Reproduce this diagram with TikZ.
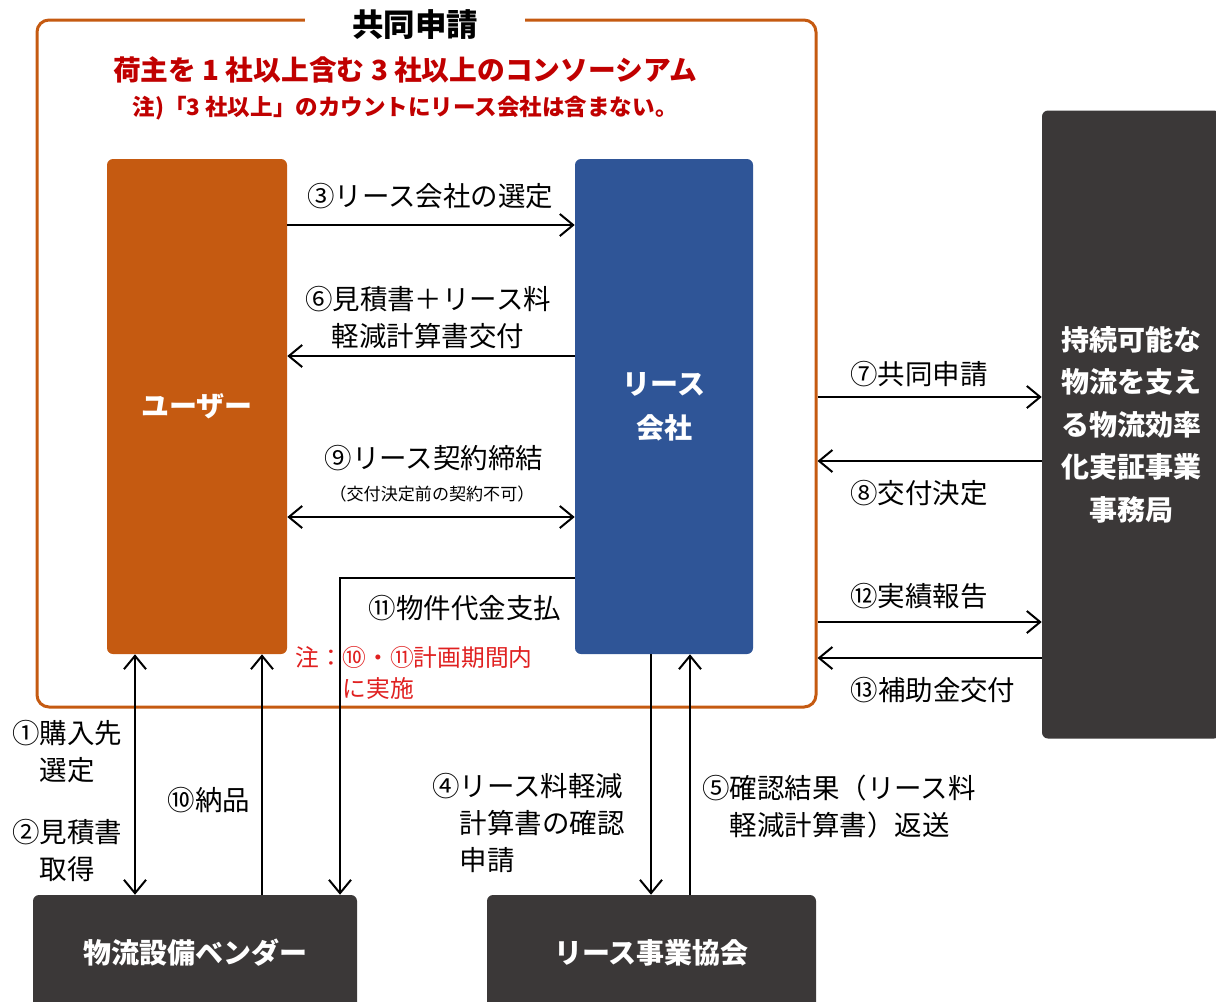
\documentclass[tikz,border=0pt]{standalone}
\usepackage{fontspec}
\setmainfont{Noto Sans CJK JP}
\usetikzlibrary{arrows.meta, calc}
\usepackage{xcolor}

\definecolor{userorange}{HTML}{C55A11}
\definecolor{leaseblue}{HTML}{2F5597}
\definecolor{officegray}{HTML}{3B3838}
\definecolor{headred}{HTML}{C00000}
\definecolor{notered}{HTML}{E02020}

\begin{document}
\begin{tikzpicture}[
    x=0.75pt, y=-0.75pt,
    >={Straight Barb[length=10pt, width=16.5pt]},
    colbox/.style={
        rectangle, rounded corners=4.5pt, align=center, text=white,
        inner sep=0pt, font=\fontsize{21pt}{33pt}\selectfont\bfseries
    },
    lbl/.style={
        inner sep=0pt, align=center,
        font=\fontsize{20.6pt}{27.75pt}\selectfont
    },
    line/.style={draw, line width=1.5pt}
]
    \useasboundingbox (0,0) rectangle (1216,1001);

    % consortium frame and its headings
    \node[draw=userorange, line width=2.25pt, rounded corners=9pt, inner sep=0pt,
          minimum width=584.25pt, minimum height=515.25pt] (frame) at (426.5,363.5) {};
    \node[fill=white, inner xsep=35pt, inner ysep=2pt,
          font=\fontsize{23.6pt}{28pt}\selectfont\bfseries] (jointitle) at (415,25) {共同申請};
    \node[inner sep=0pt, text=headred, font=\fontsize{20.8pt}{24pt}\selectfont\bfseries]
        (shipper) at (405,70) {荷主を 1 社以上含む 3 社以上のコンソーシアム};
    \node[inner sep=0pt, text=headred, font=\fontsize{16.9pt}{20pt}\selectfont\bfseries]
        (excl) at (405,108) {注)「3 社以上」のカウントにリース会社は含まない。};

    % boxes
    \node[colbox, fill=userorange, minimum width=135pt, minimum height=371.25pt] (user) at (197,406.5) {ユーザー};
    \node[colbox, fill=leaseblue, minimum width=133.5pt, minimum height=371.25pt] (lease) at (664,406.5) {リース\\会社};
    \node[colbox, fill=officegray, minimum width=133.5pt, minimum height=471pt,
          font=\fontsize{21pt}{31.9pt}\selectfont\bfseries] (office) at (1131,424.5)
        {持続可能な\\物流を支え\\る物流効率\\化実証事業\\事務局};
    \node[colbox, fill=officegray, minimum width=243pt, minimum height=87pt] (vendor) at (195,953) {物流設備ベンダー};
    \node[colbox, fill=officegray, minimum width=246.75pt, minimum height=87pt] (assoc) at (651.5,953) {リース事業協会};

    % user <-> lease company
    \draw[line, ->] (user.east |- 0,225) -- (lease.west |- 0,225);
    \draw[line, ->] (lease.west |- 0,356) -- (user.east |- 0,356);
    \draw[line, <->] (user.east |- 0,517) -- (lease.west |- 0,517);
    \draw[line, ->] (lease.west |- 0,578) -| (340,0 |- vendor.north);

    % vendor and association
    \draw[line, <->] (135,0 |- user.south) -- (135,0 |- vendor.north);
    \draw[line, ->] (262,0 |- vendor.north) -- (262,0 |- user.south);
    \draw[line, ->] (651,0 |- lease.south) -- (651,0 |- assoc.north);
    \draw[line, ->] (690,0 |- assoc.north) -- (690,0 |- lease.south);

    % frame <-> secretariat
    \draw[line, ->] (frame.east |- 0,397) -- (office.west |- 0,397);
    \draw[line, ->] (office.west |- 0,461) -- (frame.east |- 0,461);
    \draw[line, ->] (frame.east |- 0,622) -- (office.west |- 0,622);
    \draw[line, ->] (office.west |- 0,658) -- (frame.east |- 0,658);

    % labels
    \node[lbl] (selectlease) at (430,196) {③リース会社の選定};
    \node[lbl] (quote) at (428,318) {⑥見積書＋リース料\\軽減計算書交付};
    \node[lbl] (contract) at (434,458) {⑨リース契約締結};
    \node[lbl, font=\fontsize{12.8pt}{15pt}\selectfont] (contractnote) at (432,494) {（交付決定前の契約不可）};
    \node[lbl] (payment) at (465,608) {⑪物件代金支払};
    \node[lbl, align=left, anchor=west, text=notered, font=\fontsize{17.8pt}{23.25pt}\selectfont]
        (periodnote) at (295,672.5) {注：⑩・⑪計画期間内\\\phantom{注：}に実施};
    \node[lbl, align=left, anchor=west] (purchase) at (12,751.5) {①購入先\\\phantom{①}選定};
    \node[lbl, align=left, anchor=west] (estimate) at (12,850.5) {②見積書\\\phantom{②}取得};
    \node[lbl] (delivery) at (209,800) {⑩納品};
    \node[lbl, align=left, anchor=west] (checkreq) at (432,823.5) {④リース料軽減\\\phantom{④}計算書の確認\\\phantom{④}申請};
    \node[lbl, align=left, anchor=west] (checkres) at (702,806.5) {⑤確認結果（リース料\\\phantom{⑤}軽減計算書）返送};
    \node[lbl] (jointapply) at (919,374) {⑦共同申請};
    \node[lbl] (grantdecide) at (919,493) {⑧交付決定};
    \node[lbl] (report) at (919,596) {⑫実績報告};
    \node[lbl] (subsidy) at (933,690) {⑬補助金交付};
\end{tikzpicture}
\end{document}
